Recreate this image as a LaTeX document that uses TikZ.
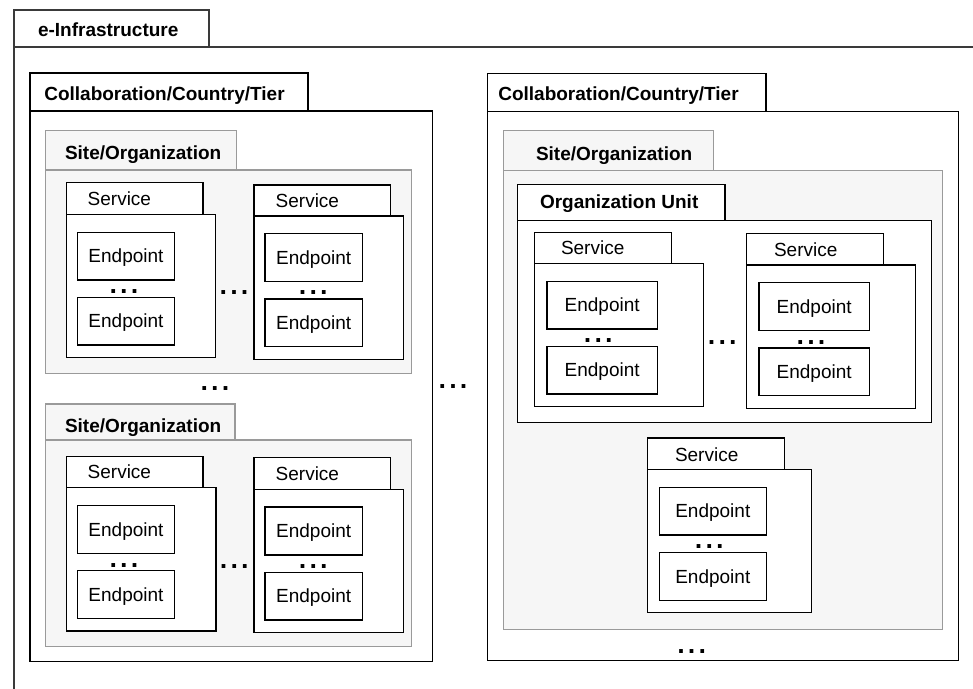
\documentclass[tikz,border=0pt]{standalone}
\usepackage{fontspec}
\setmainfont{Liberation Sans}
\newfontfamily\dotfont{DejaVu Sans}
\usetikzlibrary{fit}

\definecolor{infraline}{HTML}{3A3A3A}
\definecolor{siteline}{HTML}{9A9A9A}
\definecolor{sitefill}{HTML}{F6F6F6}

% folder = body rectangle + tab rectangle on its top-left
% #1 name, #2 style, #3 left, #4 tab top, #5 tab right, #6 tab bottom (= body top), #7 body right, #8 body bottom
\newcommand\folder[8]{%
  \node[#2, fit={(#3,#6) (#7,#8)}] (#1) {};
  \node[#2, fit={(#3,#4) (#5,#6)}] (#1-tab) {};
}
% endpoint box: #1 name, #2 left, #3 top, #4 right, #5 bottom
\newcommand\epnode[5]{%
  \node[epbox, fit={(#2,#3) (#4,#5)}] (#1) {};
  \node[eptext] (#1-t) at (#1.center) {Endpoint};
}
% three square dots centred at a point
\newcommand\etc[2]{%
  \node[etcdots] (#1) at (#2) {.\kern2.6pt.\kern2.6pt.};
}

\begin{document}
\begin{tikzpicture}[x=1pt, y=-1pt,
  every node/.style={inner sep=0pt, outer sep=0pt},
  infrabox/.style={draw=infraline, line width=1.8pt, fill=white},
  collabbox/.style={draw=black, line width=1.4pt, fill=white},
  sitebox/.style={draw=siteline, line width=1.4pt, fill=sitefill},
  svcbox/.style={draw=black, line width=1.3pt, fill=white},
  epbox/.style={draw=black, line width=1.3pt, fill=white},
  eptext/.style={anchor=center, font=\fontsize{19}{22}\selectfont,
    text height=13.6pt, text depth=0pt},
  lab/.style={anchor=base west, font=\fontsize{19}{22}\selectfont},
  blab/.style={anchor=base west, font=\fontsize{19}{22}\selectfont\bfseries},
  etcdots/.style={font={\dotfont\fontsize{21}{21}\selectfont\bfseries},
    text height=4.6pt, text depth=0pt, anchor=center}
]
\clip (0,0) rectangle (973,688);
\fill[white] (0,0) rectangle (973,688);

% outermost frame, running off the page at right and bottom
\folder{infra}{infrabox}{14}{10}{209}{47}{995}{710}
\node[blab] (infra-t) at (38,36) {e-Infrastructure};

% ---------------- left collaboration ----------------
\folder{colL}{collabbox}{30}{73}{308}{111}{432.3}{661.7}
\node[blab] (colL-t) at (44.3,100) {Collaboration/Country/Tier};

% first site
\folder{siteA}{sitebox}{45.7}{130.7}{236.7}{170}{411.7}{373.3}
\node[blab] (siteA-t) at (65,159) {Site/Organization};

\folder{svcA}{svcbox}{66.7}{182.7}{203}{214.3}{215.7}{357.7}
\node[lab] (svcA-t) at (87.7,205.5) {Service};
\epnode{epA1}{77.3}{232.3}{174.7}{280}
\epnode{epA2}{77.3}{297.3}{174.7}{345}
\etc{dA}{124,290.7}

\folder{svcB}{svcbox}{254}{185}{390.7}{216}{403.5}{359.3}
\node[lab] (svcB-t) at (275.7,207.5) {Service};
\epnode{epB1}{265}{233.7}{362.3}{281.7}
\epnode{epB2}{265}{299}{362.3}{346.7}
\etc{dB}{313.3,292.5}
\etc{dAB}{234,292.5}

\etc{dSites}{215,387.7}

% second site
\folder{siteB}{sitebox}{45.7}{404}{235}{440}{411.7}{646.7}
\node[blab] (siteB-t) at (65,432.7) {Site/Organization};

\folder{svcC}{svcbox}{66.3}{456.3}{203}{487.7}{216}{631}
\node[lab] (svcC-t) at (87.7,478.8) {Service};
\epnode{epC1}{77.3}{505.7}{174.7}{553.3}
\epnode{epC2}{77.3}{570.7}{174.7}{618.3}
\etc{dC}{124,565.5}

\folder{svcD}{svcbox}{254}{457.7}{390.7}{489.3}{403.7}{632.7}
\node[lab] (svcD-t) at (275.7,480.7) {Service};
\epnode{epD1}{265}{507}{362.3}{555}
\epnode{epD2}{265}{572.3}{362.3}{620}
\etc{dD}{313.3,566}
\etc{dCD}{234.3,566}

% between the two collaborations
\etc{dCols}{453,386.3}

% ---------------- right collaboration ----------------
\folder{colR}{collabbox}{487.3}{73.3}{766}{111.3}{958.5}{660.7}
\node[blab] (colR-t) at (498.3,100) {Collaboration/Country/Tier};

\folder{siteR}{sitebox}{503.3}{130.7}{713.3}{170.7}{942.5}{629.3}
\node[blab] (siteR-t) at (536,160) {Site/Organization};

\folder{unit}{collabbox}{517.7}{184.3}{725}{220.7}{931.7}{422.7}
\node[blab] (unit-t) at (540,208.3) {Organization Unit};

\folder{svcE}{svcbox}{534.3}{232.3}{671.7}{263.3}{703.7}{406.7}
\node[lab] (svcE-t) at (561,254.3) {Service};
\epnode{epE1}{547}{281.3}{657.3}{329}
\epnode{epE2}{547}{346.3}{657.3}{394}
\etc{dE}{598.3,340}

\folder{svcF}{svcbox}{746.7}{233.7}{883.7}{265}{915.7}{408.7}
\node[lab] (svcF-t) at (774,256) {Service};
\epnode{epF1}{759}{282.7}{869.3}{330.7}
\epnode{epF2}{759}{348}{869.3}{395.7}
\etc{dF}{811,341.7}
\etc{dEF}{722.3,341.7}

\folder{svcG}{svcbox}{647.3}{438}{784.3}{469.3}{811.3}{612.7}
\node[lab] (svcG-t) at (675,461.7) {Service};
\epnode{epG1}{659.3}{487.3}{766.3}{535}
\epnode{epG2}{659.3}{552.3}{766.3}{600.3}
\etc{dG}{709.3,546}

\etc{dR}{691.7,651}
\end{tikzpicture}
\end{document}
